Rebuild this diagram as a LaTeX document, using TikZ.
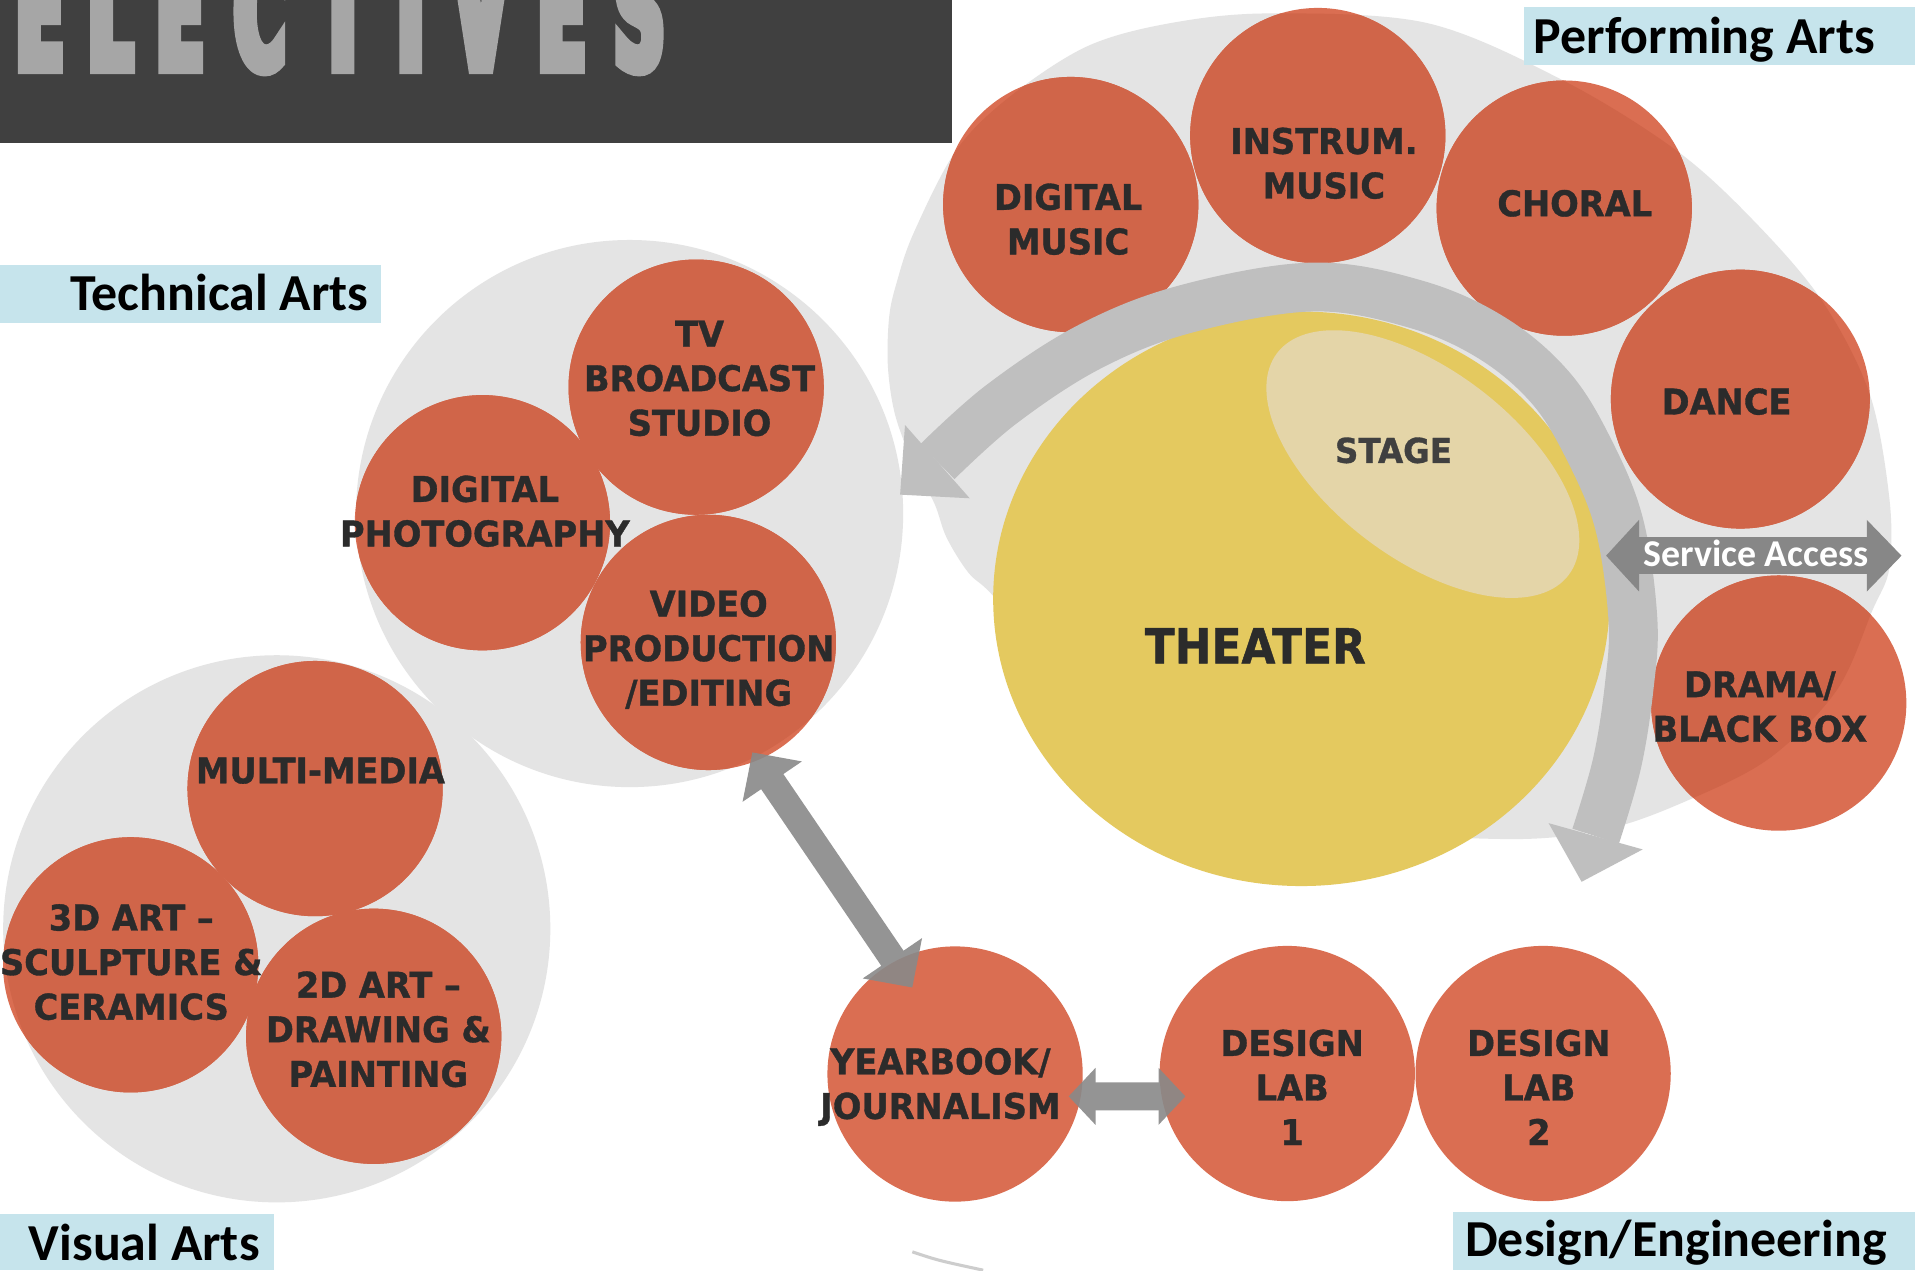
\documentclass[tikz,border=0pt]{standalone}
\usepackage{fontspec}
\usetikzlibrary{arrows.meta,calc,shapes.geometric}
\newfontfamily\circfont{DejaVu Sans Bold}[FakeStretch=0.95,FakeBold=1]
\newfontfamily\theafont{DejaVu Sans Bold}[FakeStretch=0.91,FakeBold=1]
\newfontfamily\titlefont{DejaVu Sans Bold}[FakeStretch=0.42,FakeBold=6.5]
\newfontfamily\lblfont{Carlito Bold}
\definecolor{band}{HTML}{404040}
\definecolor{titlegray}{HTML}{A6A6A6}
\definecolor{blobgray}{HTML}{E4E4E4}
\definecolor{arcgray}{HTML}{BFBFBF}
\definecolor{darkarrow}{HTML}{898989}
\definecolor{servgray}{HTML}{878787}
\definecolor{circdark}{HTML}{D06549}
\definecolor{circlight}{HTML}{DA6E52}
\definecolor{theatercol}{HTML}{E4C95F}
\definecolor{stagecol}{HTML}{E4D5A8}
\definecolor{lblblue}{HTML}{C6E4EC}
\definecolor{txt}{HTML}{2B2B2B}
\definecolor{stagetxt}{HTML}{404040}
\definecolor{sliver}{HTML}{CDCDCD}
\tikzset{
  circ/.style={circle, inner sep=0pt, minimum size=209pt, fill=circlight},
  grpcirc/.style={circle, inner sep=0pt, minimum size=448pt, fill=blobgray},
  clabel/.style={font=\circfont\fontsize{29}{36.5}\selectfont, text=txt, align=center, inner sep=0pt},
  grplabel/.style={font=\lblfont\fontsize{42.5}{48}\selectfont, text=black, inner sep=0pt, anchor=base west},
  titleletter/.style={font=\titlefont\fontsize{130}{130}\selectfont, text=titlegray, inner sep=0pt, anchor=base},
  dblarrow/.style={line width=22pt, draw=darkarrow, {Triangle[length=29pt,width=57pt]}-{Triangle[length=29pt,width=57pt]}},
  dblarrowsmall/.style={line width=23pt, draw=darkarrow, {Triangle[length=22pt,width=45.4pt]}-{Triangle[length=22pt,width=45.4pt]}},
  servarrow/.style={line width=30pt, draw=servgray, {Triangle[length=27pt,width=57pt]}-{Triangle[length=28.5pt,width=57pt]}},
}
\begin{document}
\begin{tikzpicture}[x=1pt,y=-1pt]
\useasboundingbox (0,0) rectangle (1568,1040);
\fill[white] (0,0) rectangle (1568,1040);

% title band
\fill[band] (0,0) rectangle (779.5,116.8);
\begin{scope}
\clip (0,0) rectangle (779.5,116.8);
\node[titleletter] (t1) at (32.5,56.5) {E};
\node[titleletter] (t2) at (90.4,56.5) {L};
\node[titleletter] (t3) at (147.5,56.5) {E};
\node[titleletter] (t4) at (212.7,56.5) {C};
\node[titleletter] (t5) at (280.7,56.5) {T};
\node[titleletter] (t6) at (336.3,56.5) {I};
\node[titleletter] (t7) at (393.8,56.5) {V};
\node[titleletter] (t8) at (459.9,56.5) {E};
\node[titleletter] (t9) at (523.5,56.5) {S};
\end{scope}

% performing arts blob
\path[save path=\perfpath] plot[smooth cycle, tension=0.55] coordinates {
 (1040,11) (1169,19) (1282,67) (1375,125) (1440,185) (1493,248) (1531,323)
 (1547,408) (1547,465) (1533,500) (1504,565) (1450,620) (1385,654) (1315,679)
 (1230,687) (1080,675) (960,630) (870,560) (815,490) (793,469) (775,440)
 (765,412) (748,380) (733,340) (727,300) (728,260) (734,232) (748,191)
 (783,123) (827,79) (890,38) (958,19)};
\fill[blobgray, use path=\perfpath];

% technical / visual group backgrounds
\node[grpcirc] (techgrp) at (515.5,420.5) {};
\node[grpcirc] (visgrp) at (226.6,760.5) {};

% circles
\node[circ] (dmusic) at (876.7,167.5) {};
\node[circ] (instrum) at (1079,111) {};
\node[circ] (choral) at (1280.8,170.4) {};
\node[circ, minimum size=212pt] (dance) at (1425,326.8) {};
\node[circ] (drama) at (1456.4,575.7) {};
\node[circ] (tv) at (570,317) {};
\node[circ] (dphoto) at (395,428) {};
\node[circ] (video) at (580,526) {};
\node[circ] (mmedia) at (258,645.7) {};
\node[circ] (art3d) at (107,790) {};
\node[circ] (art2d) at (306,848.5) {};
\node[circ] (yearbook) at (782,879.4) {};
\node[circ] (lab1) at (1054,879) {};
\node[circ] (lab2) at (1263.5,879) {};

% darker circle parts inside the grey groups
\begin{scope}
\clip[use path=\perfpath];
\foreach \n in {dmusic,instrum,choral,drama} \fill[circdark] (\n.center) circle[radius=104.5];
\fill[circdark] (dance.center) circle[radius=106];
\end{scope}
\begin{scope}
\clip (techgrp.center) circle[radius=224];
\foreach \n in {tv,dphoto,video} \fill[circdark] (\n.center) circle[radius=104.5];
\end{scope}
\begin{scope}
\clip (visgrp.center) circle[radius=224];
\foreach \n in {mmedia,art3d,art2d} \fill[circdark] (\n.center) circle[radius=104.5];
\end{scope}

% theater and stage
\node[ellipse, inner sep=0pt, minimum width=504.8pt, minimum height=470.4pt, fill=theatercol] (theater) at (1065.6,490.3) {};
\fill[stagecol] plot[domain=0:360, samples=145]
  ({1165+150*cos(\x)*cos(37.3)-77*sin(\x)*sin(37.3)},{380+150*cos(\x)*sin(37.3)+77*sin(\x)*cos(37.3)}) -- cycle;

% curved circulation arrow
\draw[arcgray, line width=40pt] plot[smooth, tension=0.6] coordinates {
 (767.5,378) (820,331) (892,284) (971,253) (1075,235) (1159,249) (1222,277)
 (1270,318) (1302,370) (1326,430) (1337,507) (1334,562) (1324,625) (1306.5,684.7)};
\fill[arcgray] (741,348) -- (737,405) -- (794,408) -- cycle;
\fill[arcgray] (1268,674) -- (1295,722) -- (1345,695.5) -- cycle;

% service access arrow
\coordinate (svA) at (1315,455);
\coordinate (svB) at (1557,455);
\draw[servarrow] (svA) -- (svB);

% connectors
\coordinate (vyA) at ($(video.center)+(36,90)$);
\coordinate (vyB) at ($(yearbook.center)+(-35,-70.8)$);
\coordinate (ylA) at ($(yearbook.center)+(93,18.3)$);
\coordinate (ylB) at ($(lab1.center)+(-83.4,18.7)$);
\begin{scope}[transparency group, opacity=0.9]
\draw[dblarrow] (vyA) -- (vyB);
\end{scope}
\begin{scope}[transparency group, opacity=0.9]
\draw[dblarrowsmall] (ylA) -- (ylB);
\end{scope}

% texts
\node[font=\lblfont\fontsize{31}{34}\selectfont, text=white, inner sep=0pt, anchor=base] (service) at (1438,463.7) {Service Access};
\node[font=\theafont\fontsize{39.5}{42}\selectfont, text=txt, inner sep=0pt] (theaterT) at (1027.8,528.8) {THEATER};
\node[font=\circfont\fontsize{28}{30}\selectfont, text=stagetxt, inner sep=0pt] (stageT) at (1141,368.8) {STAGE};
\node[clabel] (dmusicT) at (874.6,179.5) {DIGITAL\\MUSIC};
\node[clabel] (instrumT) at (1084,133.7) {INSTRUM.\\MUSIC};
\node[clabel] (choralT) at (1289.4,166.5) {CHORAL};
\node[clabel] (danceT) at (1413.7,328.8) {DANCE};
\node[clabel] (dramaT) at (1441,578.7) {DRAMA/\\BLACK BOX};
\node[clabel] (tvT) at (572.8,309.9) {TV\\BROADCAST\\STUDIO};
\node[clabel] (dphotoT) at (397,418.6) {DIGITAL\\PHOTOGRAPHY};
\node[clabel] (videoT) at (580.3,531.9) {VIDEO\\PRODUCTION\\/EDITING};
\node[clabel] (mmediaT) at (262.4,631) {MULTI-MEDIA};
\node[clabel] (art3dT) at (107.5,787.8) {3D ART –\\SCULPTURE \&\\CERAMICS};
\node[clabel] (art2dT) at (309.8,842.8) {2D ART –\\DRAWING \&\\PAINTING};
\node[clabel] (yearT) at (770,890) {YEARBOOK/\\JOURNALISM};
\node[clabel] (lab1T) at (1058,890.3) {DESIGN\\LAB\\1};
\node[clabel] (lab2T) at (1260,890.3) {DESIGN\\LAB\\2};

% group labels
\fill[lblblue] (0,217) rectangle (311.8,264.7);
\fill[lblblue] (1247.5,5.6) rectangle (1568,53.3);
\fill[lblblue] (0,993.8) rectangle (224.5,1040);
\fill[lblblue] (1189.6,992) rectangle (1568,1040);
\node[grplabel] (techL) at (57.6,254.3) {Technical Arts};
\node[grplabel] (perfL) at (1255.6,43.9) {Performing Arts};
\node[grplabel] (visL) at (23.5,1032.3) {Visual Arts};
\node[grplabel] (desL) at (1199.5,1029) {Design/Engineering};

% sliver of a cut-off shape at the bottom
\draw[sliver, line width=2.5pt] (747,1025) .. controls (768,1032) .. (805,1040);
\end{tikzpicture}
\end{document}
